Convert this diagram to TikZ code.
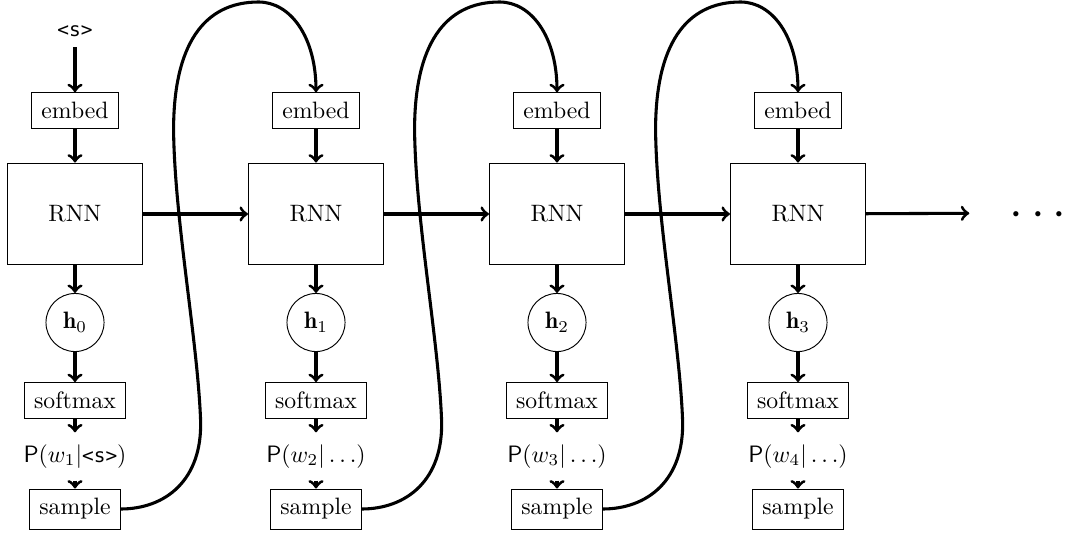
\documentclass[tikz,border=0pt]{standalone}
\usepackage{fontspec}
\newfontfamily\tokfont{DejaVu Sans Mono}[Scale=0.82]
\usetikzlibrary{calc}
\begin{document}
\begin{tikzpicture}[x=0.42187pt, y=-0.42187pt,
  box/.style={draw, line width=0.4pt, inner sep=4pt},
  rnnbox/.style={draw, line width=0.4pt, minimum width=57pt, minimum height=43pt},
  state/.style={draw, line width=0.4pt, circle, minimum size=24.5pt, inner sep=0pt},
  plabel/.style={inner sep=5pt},
  arr/.style={->, line width=1.3pt}]
\useasboundingbox (0,0) rectangle (1070,535);

% start-of-sentence token
\node[inner sep=4pt, anchor=south] (start) at (75,47) {\tokfont <s>};

% one unrolled time step per column
\foreach \i/\x in {1/75,2/316,3/557,4/798}{
  \pgfmathtruncatemacro\k{\i-1}
  \node[box] (e\i) at (\x,110.5) {embed};
  \node[rnnbox] (r\i) at (\x,214) {RNN};
  \node[state] (h\i) at (\x,322.5) {$\mathbf{h}_{\k}$};
  \node[box] (sm\i) at (\x,400.5) {softmax};
  \node[box] (sa\i) at (\x,509) {sample};
}

% output distributions
\node[plabel] (p1) at (75,456.5) {$\mathsf{P}(w_1|\hbox{\tokfont <s>})$};
\node[plabel] (p2) at (316,456.5) {$\mathsf{P}(w_2|\ldots)$};
\node[plabel] (p3) at (557,456.5) {$\mathsf{P}(w_3|\ldots)$};
\node[plabel] (p4) at (798,456.5) {$\mathsf{P}(w_4|\ldots)$};

% continuation
\node[inner ysep=0pt, inner xsep=16.7pt, text height=11pt, text depth=0pt]
  (dots) at (1038,213) {\fontsize{22}{26}\selectfont$\cdots$};

\draw[arr] (start) -- (e1);
\foreach \i in {1,2,3,4}{
  \draw[arr] (e\i) -- (r\i);
  \draw[arr] (r\i) -- (h\i);
  \draw[arr] (h\i) -- (sm\i);
  \draw[arr] (sm\i) -- (p\i);
  \draw[arr] (p\i) -- (sa\i);
}

% recurrent state passed along
\draw[arr] (r1) -- (r2);
\draw[arr] (r2) -- (r3);
\draw[arr] (r3) -- (r4);
\draw[arr] (r4) -- (dots);

% sampled word fed back as the next input
\foreach \i/\j in {1/2,2/3,3/4}{
  \draw[arr] (sa\i.east) .. controls +(45,0) and +(2,60) ..
    ($(sa\i.east)+(80,-89)$) .. controls +(-3,-80) and +(1,90) ..
    ($(sa\i.east)+(53,-379)$) .. controls +(0,-85) and +(-55,0) ..
    ($(sa\i.east)+(138,-507)$) .. controls +(32,0) and +(0,-55) ..
    (e\j.north);
}
\end{tikzpicture}
\end{document}
